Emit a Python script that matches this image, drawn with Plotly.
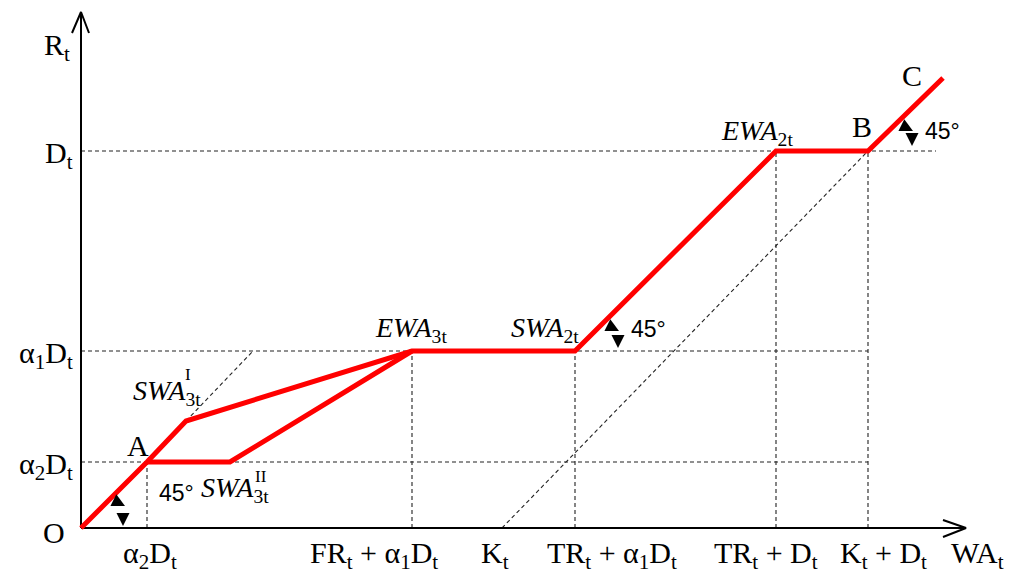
import plotly.graph_objects as go

# ---- data (diagram units, origin O at 0,0) ----
a2D = 66      # alpha2 * D_t
a1D = 177     # alpha1 * D_t
D = 377       # D_t
x_ticks = [66, 331, 421, 494, 695, 787]
x_tick_labels = ["α<sub>2</sub>D<sub>t</sub>", "FR<sub>t</sub> + α<sub>1</sub>D<sub>t</sub>", "K<sub>t</sub>",
                 "TR<sub>t</sub> + α<sub>1</sub>D<sub>t</sub>", "TR<sub>t</sub> + D<sub>t</sub>", "K<sub>t</sub> + D<sub>t</sub>"]
y_ticks = [a2D, a1D, D]
y_tick_labels = ["α<sub>2</sub>D<sub>t</sub>", "α<sub>1</sub>D<sub>t</sub>", "D<sub>t</sub>"]

main_x = [0, 66, 105, 331, 494, 695, 787, 862]
main_y = [0, 66, 107, 177, 177, 377, 377, 450]
branch_x = [66, 149, 331]
branch_y = [66, 66, 177]
guide1_x = [105, 172]       # 45° continuation from SWA3t^I
guide1_y = [107, 177]
guide2_x = [421, 787]       # from K_t to B
guide2_y = [0, 377]
hline_ends = [787, 787, 855]   # right end of dashed lines at a2D, a1D, D
vline_x = [66, 331, 494, 695, 787]
vline_top = [66, 177, 177, 377, 377]

# angle-marker arrowhead tips: first of each pair on the slanted side, second pointing down
tri_a_x = [44, 538, 832]
tri_a_y = [22, 197, 397]
tri_b_x = [42, 537, 831]
tri_b_y = [2, 180, 382]

x_max = 885
y_max = 516

# ---- styling / layout ----
SERIF = "Liberation Serif"
SANS = "Liberation Sans"
RED = "#ff0000"
DASH = dict(color="#222222", width=1.1, dash="4px,3px")

fig = go.Figure()

for yv, xe in zip(y_ticks, hline_ends):
    fig.add_trace(go.Scatter(x=[0, xe], y=[yv, yv], mode="lines", line=DASH, hoverinfo="skip"))
for xv, yt in zip(vline_x, vline_top):
    fig.add_trace(go.Scatter(x=[xv, xv], y=[0, yt], mode="lines", line=DASH, hoverinfo="skip"))
fig.add_trace(go.Scatter(x=guide1_x, y=guide1_y, mode="lines", line=DASH, hoverinfo="skip"))
fig.add_trace(go.Scatter(x=guide2_x, y=guide2_y, mode="lines", line=DASH, hoverinfo="skip"))

# axes with open arrowheads
AX = dict(color="black", width=2)
fig.add_trace(go.Scatter(x=[0, 0], y=[0, y_max], mode="lines", line=AX, hoverinfo="skip"))
fig.add_trace(go.Scatter(x=[-9, 0, 8], y=[y_max - 21, y_max, y_max - 21], mode="lines", line=AX, hoverinfo="skip"))
fig.add_trace(go.Scatter(x=[0, x_max], y=[0, 0], mode="lines", line=AX, hoverinfo="skip"))
fig.add_trace(go.Scatter(x=[x_max - 23, x_max, x_max - 23], y=[8, 0, -9], mode="lines", line=AX, hoverinfo="skip"))

# red curves
fig.add_trace(go.Scatter(x=branch_x, y=branch_y, mode="lines", line=dict(color=RED, width=5), hoverinfo="skip"))
fig.add_trace(go.Scatter(x=main_x, y=main_y, mode="lines", line=dict(color=RED, width=5), hoverinfo="skip"))

# angle-marker arrowheads (filled triangles)
def head(x, y, ax, ay):
    fig.add_annotation(x=x, y=y, text="", showarrow=True, ax=ax, ay=ay, axref="pixel", ayref="pixel",
                       arrowhead=2, arrowsize=2.6, arrowwidth=1, arrowcolor="black", standoff=0)
for x, y in zip(tri_a_x, tri_a_y):
    head(x, y, -8, -4)
for x, y in zip(tri_b_x, tri_b_y):
    head(x, y, 0, -9)

FS = 30
def txt(x, y, s, size=FS, fam=SERIF, xa="center", ya="middle", xs=0, ys=0):
    fig.add_annotation(x=x, y=y, text=s, showarrow=False, xanchor=xa, yanchor=ya,
                       xshift=xs, yshift=ys, font=dict(family=fam, size=size, color="black"))

# x tick labels
x_shifts = [3, -38, -7, 37, -10, 15]
for xv, lab, sh in zip(x_ticks, x_tick_labels, x_shifts):
    txt(xv, 0, lab, xs=sh, ys=-27)
txt(x_max, 0, "WA<sub>t</sub>", xs=11, ys=-27)

# y tick labels
for yv, lab in zip(y_ticks, y_tick_labels):
    txt(0, yv, lab, xa="right", xs=-6, ys=-4)
txt(0, y_max, "R<sub>t</sub>", xa="right", xs=-9, ys=-35)
txt(0, 0, "O", xa="right", xs=-14, ys=-4)

# point labels
txt(main_x[1], main_y[1], "A", xs=-9, ys=17)
txt(main_x[6], main_y[6], "B", xs=-6, ys=25)
txt(main_x[7], main_y[7], "C", xs=-31, ys=3)
txt(main_x[2], main_y[2], "<i>SWA</i><sub>3t</sub>", size=28, xa="right", xs=17, ys=29)
txt(main_x[2], main_y[2], "I", size=17, xs=2, ys=47)
txt(branch_x[1], branch_y[1], "<i>SWA</i><sub>3t</sub>", size=28, xa="left", xs=-31, ys=-27)
txt(branch_x[1], branch_y[1], "II", size=17, xs=31, ys=-14)
txt(main_x[3], main_y[3], "<i>EWA</i><sub>3t</sub>", size=28, xs=-1, ys=22)
txt(main_x[4], main_y[4], "<i>SWA</i><sub>2t</sub>", size=28, xs=-30, ys=22)
txt(main_x[5], main_y[5], "<i>EWA</i><sub>2t</sub>", size=28, xs=-19, ys=19)

# 45° labels
txt(tri_b_x[0], tri_b_y[0], "45°", size=23, fam=SANS, xa="left", xs=34, ys=33)
txt(tri_b_x[1], tri_b_y[1], "45°", size=23, fam=SANS, xa="left", xs=11, ys=19)
txt(tri_b_x[2], tri_b_y[2], "45°", size=23, fam=SANS, xa="left", xs=11, ys=15)

fig.update_layout(
    width=1024, height=586, margin=dict(l=0, r=0, t=0, b=0),
    paper_bgcolor="white", plot_bgcolor="white", showlegend=False,
    xaxis=dict(range=[-81, 943], visible=False, fixedrange=True),
    yaxis=dict(range=[-58, 528], visible=False, fixedrange=True),
)
fig.write_html("out.html", config={"displayModeBar": False},
               post_script="document.body.style.margin='0';")
